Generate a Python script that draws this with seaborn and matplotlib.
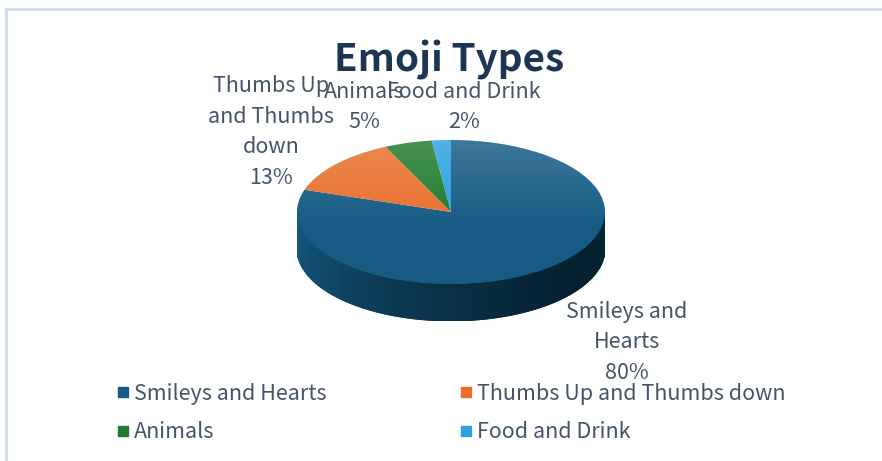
import numpy as np
import matplotlib
matplotlib.use("Agg")
import matplotlib.pyplot as plt
import matplotlib.colors as mcolors
from matplotlib.patches import Polygon
from matplotlib.lines import Line2D
import seaborn as sns

# ---- data ----
categories = ["Smileys and Hearts", "Thumbs Up and Thumbs down", "Animals", "Food and Drink"]
values = [80, 13, 5, 2]
slice_names = ["Smileys and\nHearts", "Thumbs Up\nand Thumbs\ndown", "Animals", "Food and Drink"]
colors = ["#155b84", "#e8702c", "#217a2e", "#2aa2e0"]
side_dark = ["#04202f", "#8a3a10", "#0f4318", "#146790"]

sns.set_theme(style="white")
plt.rcParams["font.family"] = ["Noto Sans CJK SC", "DejaVu Sans"]

W, H = 882, 461
fig = plt.figure(figsize=(W / 100, H / 100), dpi=100)
fig.patch.set_facecolor("white")

TEXT = "#44546a"

def fx(x):
    return x / W

def fy(y):
    return 1 - y / H

# chart frame lines
fig.add_artist(Line2D([fx(5), 1], [fy(9.5), fy(9.5)], color="#c8d8ee", lw=1.8))
fig.add_artist(Line2D([fx(6), fx(6)], [fy(9.5), 0], color="#c8d8ee", lw=1.8))

# ---- pie geometry (pixel layout) ----
cx, cy, rx, ry, depth = 451, 212, 154, 72, 37
d = depth / ry
ax = fig.add_axes([fx(cx - rx), fy(cy + ry + depth), 2 * rx / W, (2 * ry + depth) / H])

wedges, _ = ax.pie(values, colors=colors, startangle=90, counterclock=False,
                   radius=1, center=(0, 0), wedgeprops=dict(linewidth=0))
ax.set_aspect("auto")
ax.set_xlim(-1, 1)
ax.set_ylim(-1 - d, 1)
ax.axis("off")

# side wall of the front half, shaded by angle
def owner(angle):
    for i, w in enumerate(wedges):
        t1, t2 = w.theta1 % 360, w.theta2 % 360
        a = angle % 360
        if t1 <= t2:
            if t1 <= a <= t2:
                return i
        elif a >= t1 or a <= t2:
            return i
    return 0

angles = np.linspace(180, 360, 241)
for a1, a2 in zip(angles[:-1], angles[1:]):
    mid = 0.5 * (a1 + a2)
    i = owner(mid)
    # light on the left, darkest toward the lower right
    t = (mid - 180) / 180.0
    shade = np.clip(1.0 - 1.25 * t, 0, 1) ** 1.3
    shade = shade + 0.12 * max(0, t - 0.85) / 0.15
    c = np.array(mcolors.to_rgb(side_dark[i])) * (1 - shade) + \
        np.array(mcolors.to_rgb(colors[i])) * shade
    r1, r2 = np.radians(a1), np.radians(a2 + 0.3)
    pts = [(np.cos(r1), np.sin(r1)), (np.cos(r2), np.sin(r2)),
           (np.cos(r2), np.sin(r2) - d), (np.cos(r1), np.sin(r1) - d)]
    ax.add_patch(Polygon(pts, closed=True, facecolor=c, edgecolor=c, lw=0.6, zorder=0))

# soft light on the upper part of the top face
grad = np.linspace(0, 1, 200)[:, None] * np.ones((1, 2))
overlay = np.zeros((200, 2, 4))
overlay[..., :3] = 1.0
overlay[..., 3] = 0.18 * np.clip(grad * 1.6 - 0.6, 0, 1)
for w in wedges:
    im = ax.imshow(overlay, extent=(-1, 1, -1, 1), origin="lower", aspect="auto", zorder=2)
    im.set_clip_path(w)

# ---- title ----
fig.text(fx(449), fy(60), "Emoji Types", ha="center", va="center",
         fontsize=27.8, fontweight="bold", color="#1b3553")

# ---- slice labels ----
total = sum(values)
label_pos = [(627, 342), (271, 132), (364, 107), (464, 107)]
for name, v, (x, y) in zip(slice_names, values, label_pos):
    fig.text(fx(x), fy(y), f"{name}\n{round(100 * v / total)}%", ha="center", va="center",
             fontsize=15.5, color=TEXT, linespacing=1.5)

# ---- legend (row-major order) ----
handles = [Line2D([], [], marker="s", ls="", color=c, markersize=6.5) for c in colors]
order = [0, 2, 1, 3]
leg = fig.legend([handles[i] for i in order], [categories[i] for i in order],
                 ncol=2, loc="upper left", bbox_to_anchor=(fx(108), fy(374)),
                 frameon=False, fontsize=15.5, handlelength=0.6, handletextpad=0.2,
                 columnspacing=6.2, labelspacing=0.77, borderaxespad=0)
for t in leg.get_texts():
    t.set_color(TEXT)

fig.savefig("out.png", dpi=100, facecolor="white")
